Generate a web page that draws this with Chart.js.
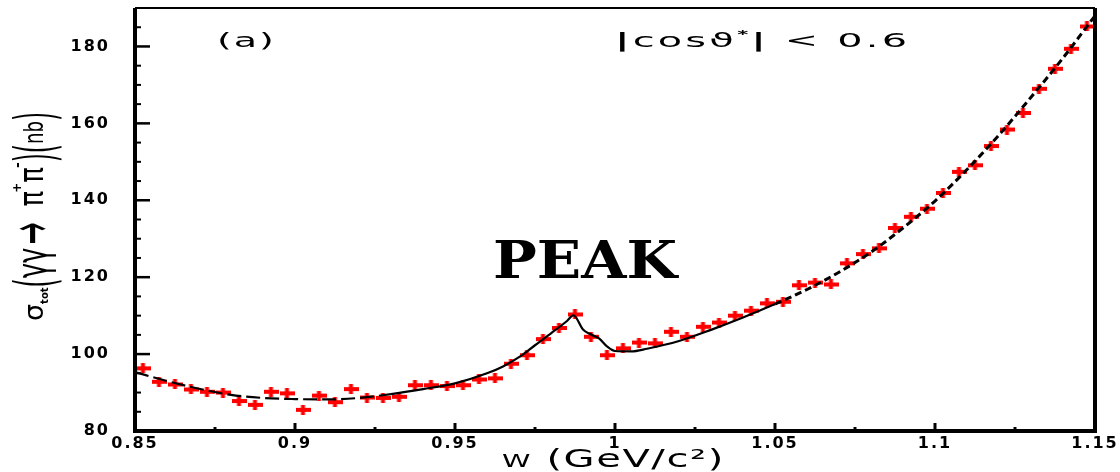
<!DOCTYPE html>
<html>
<head>
<meta charset="utf-8">
<script src="https://cdn.jsdelivr.net/npm/chart.js@4.4.1/dist/chart.umd.min.js"></script>
<style>
  html, body { margin: 0; padding: 0; background: #fff; }
  canvas { display: block; }
</style>
</head>
<body>
<canvas id="sigma" width="1120" height="472"></canvas>
<script>
// bin centres, W in GeV/c^2
var binW = [0.8525, 0.8575, 0.8625, 0.8675, 0.8725, 0.8775, 0.8825, 0.8875, 0.8925, 0.8975,
            0.9025, 0.9075, 0.9125, 0.9175, 0.9225, 0.9275, 0.9325, 0.9375, 0.9425, 0.9475,
            0.9525, 0.9575, 0.9625, 0.9675, 0.9725, 0.9775, 0.9825, 0.9875, 0.9925, 0.9975,
            1.0025, 1.0075, 1.0125, 1.0175, 1.0225, 1.0275, 1.0325, 1.0375, 1.0425, 1.0475,
            1.0525, 1.0575, 1.0625, 1.0675, 1.0725, 1.0775, 1.0825, 1.0875, 1.0925, 1.0975,
            1.1025, 1.1075, 1.1125, 1.1175, 1.1225, 1.1275, 1.1325, 1.1375, 1.1425, 1.1475];
// measured sigma_tot (nb)
var sigma = [96.3, 92.8, 92.1, 90.8, 90.2, 90.0, 87.8, 86.8, 90.2, 89.8,
             85.5, 89.2, 87.5, 90.9, 88.7, 88.6, 88.9, 91.9, 91.9, 91.7,
             91.9, 93.4, 93.7, 97.5, 99.7, 103.9, 106.8, 110.3, 104.5, 99.7,
             101.5, 103.0, 102.8, 105.8, 104.5, 107.1, 108.2, 110.0, 111.3, 113.2,
             113.6, 117.9, 118.6, 118.1, 123.6, 126.0, 127.5, 132.8, 135.7, 137.8,
             141.9, 147.4, 149.1, 154.1, 158.4, 162.7, 169.0, 174.2, 179.4, 185.2];
// fit curve
var fitW = [0.85, 0.86, 0.87, 0.88, 0.89, 0.90, 0.91, 0.92, 0.93, 0.94, 0.95, 0.96, 0.965, 0.97,
            0.975, 0.98, 0.985, 0.987, 0.99, 0.9925, 0.995, 0.9975, 1.0, 1.005, 1.01, 1.02, 1.03,
            1.04, 1.05, 1.06, 1.07, 1.08, 1.09, 1.10, 1.11, 1.12, 1.13, 1.14, 1.15];
var fitSigma = [95.3, 93.0, 91.0, 89.4, 88.6, 88.3, 88.2, 88.6, 89.6, 90.9, 92.4, 95.0, 96.8, 99.2,
                102.3, 105.4, 108.6, 110.1, 106.4, 105.1, 104.1, 102.0, 100.8, 100.7, 101.4, 103.4, 106.3,
                109.5, 113.0, 116.8, 121.3, 126.5, 132.8, 139.8, 148.0, 157.0, 166.8, 177.0, 188.0];

var xTicks = [0.85, 0.9, 0.95, 1.0, 1.05, 1.1, 1.15];
var xTickLabels = ['0.85', '0.9', '0.95', '1', '1.05', '1.1', '1.15'];
var xMinorTicks = [0.875, 0.925, 0.975, 1.025, 1.075, 1.125];
var yTicks = [80, 100, 120, 140, 160, 180];
var yTickLabels = ['80', '100', '120', '140', '160', '180'];
var yMinorTicks = [85, 90, 95, 105, 110, 115, 125, 130, 135, 145, 150, 155, 165, 170, 175, 185];

// red "+" marker: horizontal bar = bin width, short vertical bar = error
var cross = document.createElement('canvas');
cross.width = 15; cross.height = 10;
var g = cross.getContext('2d');
g.fillStyle = '#ff0000';
g.fillRect(0, 3, 15, 4);
g.fillRect(5.5, 0, 4, 10);

function drawRuns(ctx, runs, x, y, angle, sx, spacing) {
  ctx.save();
  ctx.translate(x, y);
  ctx.rotate(angle || 0);
  ctx.scale(sx || 1, 1);
  ctx.textAlign = 'left';
  ctx.textBaseline = 'alphabetic';
  ctx.fillStyle = '#000';
  ctx.letterSpacing = (spacing || 0) + 'px';
  var cx = 0;
  runs.forEach(function (r) {
    cx += r.dx || 0;
    ctx.font = r.f;
    ctx.save();
    ctx.translate(cx, r.dy || 0);
    ctx.scale(r.sx || 1, r.sy || 1);
    ctx.fillText(r.t, 0, 0);
    ctx.restore();
    cx += ctx.measureText(r.t).width * (r.sx || 1);
  });
  ctx.restore();
}

var framePlugin = {
  id: 'frame',
  beforeDraw: function (chart) {
    chart.ctx.letterSpacing = '2px';
  },
  afterDatasetsDraw: function (chart) {
    var ctx = chart.ctx, a = chart.chartArea;
    var xs = chart.scales.x, ys = chart.scales.y;
    ctx.save();
    ctx.strokeStyle = '#000';
    ctx.lineCap = 'butt';
    // ticks on the left axis
    ctx.lineWidth = 2.5;
    yTicks.forEach(function (v) {
      var p = ys.getPixelForValue(v);
      ctx.beginPath(); ctx.moveTo(a.left, p); ctx.lineTo(a.left + 15, p); ctx.stroke();
    });
    ctx.lineWidth = 2;
    yMinorTicks.forEach(function (v) {
      var p = ys.getPixelForValue(v);
      ctx.beginPath(); ctx.moveTo(a.left, p); ctx.lineTo(a.left + 6, p); ctx.stroke();
    });
    // ticks on the bottom axis
    ctx.lineWidth = 3;
    xTicks.forEach(function (v) {
      var p = xs.getPixelForValue(v);
      ctx.beginPath(); ctx.moveTo(p, a.bottom); ctx.lineTo(p, a.bottom - 8); ctx.stroke();
    });
    xMinorTicks.forEach(function (v) {
      var p = xs.getPixelForValue(v);
      ctx.beginPath(); ctx.moveTo(p, a.bottom); ctx.lineTo(p, a.bottom - 4); ctx.stroke();
    });
    // box
    ctx.lineWidth = 4;
    ctx.beginPath();
    ctx.moveTo(a.left, a.top); ctx.lineTo(a.left, a.bottom + 2);
    ctx.moveTo(a.left - 2, a.bottom); ctx.lineTo(a.right + 2, a.bottom);
    ctx.moveTo(a.right, a.bottom); ctx.lineTo(a.right, a.top);
    ctx.stroke();
    ctx.lineWidth = 2;
    ctx.beginPath(); ctx.moveTo(a.left, a.top); ctx.lineTo(a.right, a.top); ctx.stroke();
    ctx.restore();
  },
  afterDraw: function (chart) {
    var ctx = chart.ctx;
    ctx.letterSpacing = '0px';
    var f = 'DejaVu Sans';
    drawRuns(ctx, [{ t: '(a)', f: '19px ' + f }], 217, 47, 0, 2.0, 1);
    drawRuns(ctx, [
      { t: '|', f: 'bold 19px ' + f },
      { t: 'cosϑ', f: '19px ' + f },
      { t: '*', f: 'bold 10px ' + f, dy: -9 },
      { t: '|', f: 'bold 19px ' + f },
      { t: ' < 0.6', f: '19px ' + f }
    ], 615, 47, 0, 2.1, 1.5);
    drawRuns(ctx, [
      { t: 'W', f: '18px ' + f },
      { t: ' (GeV/c²)', f: '25px ' + f }
    ], 502, 467, 0, 1.6, 1);
    ctx.save();
    ctx.font = 'bold 52px "DejaVu Serif"';
    ctx.fillStyle = '#000';
    ctx.textAlign = 'center';
    ctx.textBaseline = 'alphabetic';
    ctx.translate(585, 278);
    ctx.scale(1.12, 1);
    ctx.fillText('PEAK', 0, 0);
    ctx.restore();
    // rotated y-axis title
    drawRuns(ctx, [
      { t: 'σ', f: '27px ' + f },
      { t: 'tot', f: 'bold 10px ' + f, dy: 5 },
      { t: '(', f: '26px ' + f, sy: 2.1, sx: 0.9, dy: 11 },
      { t: 'γγ', f: '26px ' + f, sy: 1.7, dy: 4 },
      { t: '→', f: '44px ' + f, sx: 0.6, sy: 1.4, dy: 9, dx: 3 },
      { t: 'π', f: '26px ' + f, sy: 1.3, dx: 16 },
      { t: '+', f: 'bold 12px ' + f, dy: -22, dx: -2 },
      { t: 'π', f: '26px ' + f, sy: 1.3 },
      { t: '-', f: 'bold 14px ' + f, dy: -21, dx: -1 },
      { t: ')', f: '26px ' + f, sy: 2.1, sx: 0.9, dy: 11 },
      { t: '(', f: '26px ' + f, sy: 2.1, sx: 0.9, dy: 11 },
      { t: 'nb', f: '26px ' + f, sx: 0.7 },
      { t: ')', f: '26px ' + f, sy: 2.1, sx: 0.9, dy: 11 }
    ], 43, 321, -Math.PI / 2, 1, 0);
  }
};

var tickFont = { family: 'DejaVu Sans', size: 16, weight: 'bold' };

new Chart(document.getElementById('sigma'), {
  type: 'scatter',
  data: {
    datasets: [{
      label: 'fit',
      data: fitW.map(function (w, i) { return { x: w, y: fitSigma[i] }; }),
      showLine: true,
      pointRadius: 0,
      borderColor: '#000',
      borderWidth: 2.2,
      cubicInterpolationMode: 'monotone',
      order: 0,
      segment: {
        borderDash: function (c) {
          if (c.p0.parsed.x < 0.93) return [14, 5];
          if (c.p0.parsed.x >= 1.05) return [7, 4];
          return undefined;
        },
        borderWidth: function (c) { return c.p0.parsed.x >= 1.05 ? 3 : 2.2; }
      }
    }, {
      label: 'data',
      data: binW.map(function (w, i) { return { x: w, y: sigma[i] }; }),
      pointStyle: cross,
      pointRadius: 5,
      order: 1
    }]
  },
  options: {
    responsive: false,
    animation: false,
    devicePixelRatio: 1,
    layout: { padding: { top: 8, right: 25, left: 0, bottom: 0 } },
    plugins: { legend: { display: false }, tooltip: { enabled: false } },
    scales: {
      x: {
        type: 'linear', min: 0.85, max: 1.15,
        afterBuildTicks: function (s) { s.ticks = xTicks.map(function (v) { return { value: v }; }); },
        afterFit: function (s) { s.height = 41; s.paddingLeft = 0; s.paddingRight = 0; },
        grid: { display: false, drawTicks: false },
        border: { display: false },
        ticks: {
          padding: 3, color: '#000', font: tickFont, maxRotation: 0, autoSkip: false,
          callback: function (v, i) { return xTickLabels[i]; }
        }
      },
      y: {
        type: 'linear', min: 80, max: 190,
        afterBuildTicks: function (s) { s.ticks = yTicks.map(function (v) { return { value: v }; }); },
        afterFit: function (s) { s.width = 135; s.paddingTop = 0; s.paddingBottom = 0; },
        grid: { display: false, drawTicks: false },
        border: { display: false },
        ticks: {
          padding: 25, color: '#000', font: tickFont, autoSkip: false,
          callback: function (v, i) { return yTickLabels[i]; }
        }
      }
    }
  },
  plugins: [framePlugin]
});
</script>
</body>
</html>
